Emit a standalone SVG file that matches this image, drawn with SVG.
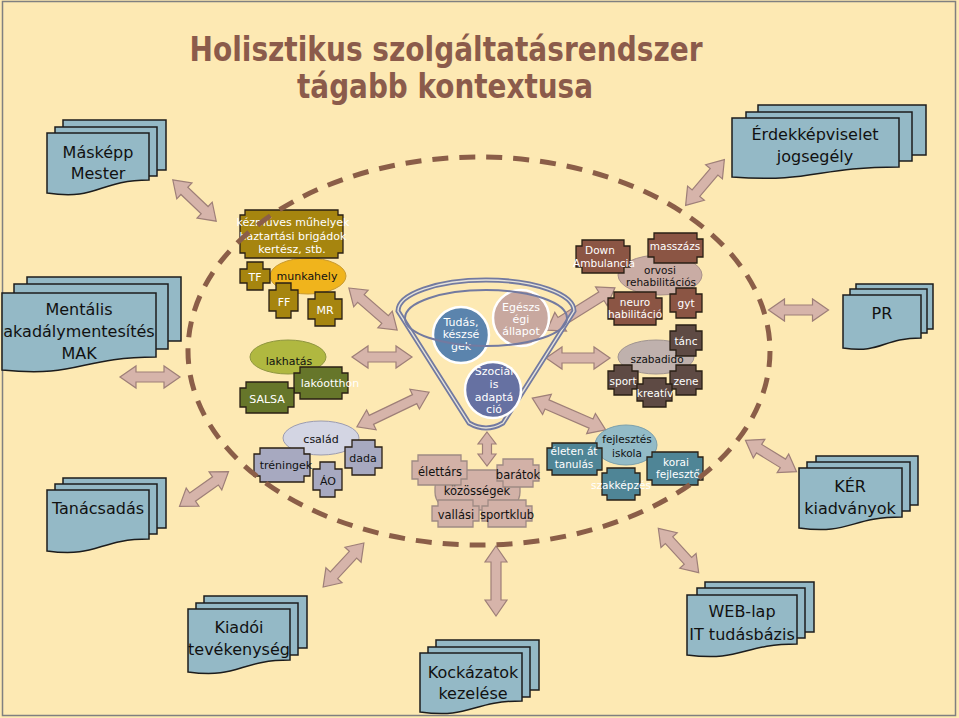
<svg xmlns="http://www.w3.org/2000/svg" width="959" height="718" viewBox="0 0 959 718">
<defs>
<style>
.doc{fill:#94B9C6;stroke:#1c1c1c;stroke-width:1.5}
.dt{font-family:"DejaVu Sans",Verdana,sans-serif;font-size:16px;fill:#111;text-anchor:middle}
.st{font-family:"DejaVu Sans",Verdana,sans-serif;text-anchor:middle}
.f10{font-size:10.5px}
.f105{font-size:11px}
.f115{font-size:11.5px}
.w{fill:#fff}
.k{fill:#111}
.box{stroke:#2a1f14;stroke-width:1.3}
.arr{fill:#D6B4AA;stroke:#9E7F78;stroke-width:1.2}
.gold{fill:#A6850F}
.olive{fill:#66762A}
.lav{fill:#A7A9C0}
.pink{fill:#D2B1A7;stroke:#9F8A84;stroke-width:1.3}
.teal{fill:#4F8596}
.brown{fill:#8B5544}
.dark{fill:#5E4A44}
</style>
<polygon id="a60" class="arr" points="-30,0 -14,-11 -14,-5 14,-5 14,-11 30,0 14,11 14,5 -14,5 -14,11"/>
<polygon id="a64" class="arr" points="-32,0 -16,-11 -16,-5 16,-5 16,-11 32,0 16,11 16,5 -16,5 -16,11"/>
<polygon id="a70" class="arr" points="-35,0 -19,-11 -19,-5 19,-5 19,-11 35,0 19,11 19,5 -19,5 -19,11"/>
<polygon id="a74" class="arr" points="-37,0 -21,-11 -21,-5 21,-5 21,-11 37,0 21,11 21,5 -21,5 -21,11"/>
<polygon id="a80" class="arr" points="-40,0 -24,-11 -24,-5 24,-5 24,-11 40,0 24,11 24,5 -24,5 -24,11"/>
<polygon id="a34" class="arr" points="-17,0 -5,-9 -5,-4.5 5,-4.5 5,-9 17,0 5,9 5,4.5 -5,4.5 -5,9"/>
</defs>

<rect x="0" y="0" width="959" height="718" fill="#FDE9B3"/>
<rect x="2.5" y="1.5" width="953" height="714" fill="none" stroke="#808080" stroke-width="1.5"/>

<g id="title" font-family="DejaVu Sans, Verdana, sans-serif" font-weight="bold" font-size="33" fill="#8B5B4B" text-anchor="middle">
<text x="446" y="61" textLength="513" lengthAdjust="spacingAndGlyphs">Holisztikus szolgáltatásrendszer</text>
<text x="445" y="98" textLength="296" lengthAdjust="spacingAndGlyphs">tágabb kontextusa</text>
</g>

<!-- outer documents -->
<g id="maskepp">
<rect class="doc" x="63" y="120" width="103" height="50"/>
<rect class="doc" x="55" y="127" width="102" height="49"/>
<path class="doc" d="M47,133 H149 V180 C98,180 98,201 47,193 Z"/>
<text class="dt" x="98" y="158">Másképp</text>
<text class="dt" x="98" y="179">Mester</text>
</g>
<g id="erdek">
<rect class="doc" x="758" y="105" width="168" height="50"/>
<rect class="doc" x="746" y="112" width="166" height="49"/>
<path class="doc" d="M732,118 H899 V167 C815,167 815,183 732,177 Z"/>
<text class="dt" x="815" y="140">Érdekképviselet</text>
<text class="dt" x="815" y="162">jogsegély</text>
</g>
<g id="mentalis">
<rect class="doc" x="27" y="277" width="154" height="64"/>
<rect class="doc" x="14" y="284" width="154" height="65"/>
<path class="doc" d="M2,293 H156 V357 C79,357 79,378 2,370 Z"/>
<text class="dt" x="79" y="315">Mentális</text>
<text class="dt" x="79" y="337">akadálymentesítés</text>
<text class="dt" x="79" y="359">MAK</text>
</g>
<g id="pr">
<rect class="doc" x="856" y="284" width="77" height="45"/>
<rect class="doc" x="850" y="289" width="77" height="44"/>
<path class="doc" d="M843,295 H921 V338 C882,338 882,354 843,348 Z"/>
<text class="dt" x="882" y="319">PR</text>
</g>
<g id="tanacsadas">
<rect class="doc" x="63" y="478" width="103" height="50"/>
<rect class="doc" x="55" y="484" width="102" height="50"/>
<path class="doc" d="M47,490 H149 V539 C98,539 98,558 47,551 Z"/>
<text class="dt" x="98" y="514">Tanácsadás</text>
</g>
<g id="kiadoi">
<rect class="doc" x="204" y="596" width="103" height="52"/>
<rect class="doc" x="196" y="603" width="102" height="52"/>
<path class="doc" d="M188,609 H290 V660 C239,660 239,679 188,672 Z"/>
<text class="dt" x="239" y="633">Kiadói</text>
<text class="dt" x="239" y="655">tevékenység</text>
</g>
<g id="kockazatok">
<rect class="doc" x="436" y="640" width="103" height="50"/>
<rect class="doc" x="428" y="647" width="102" height="50"/>
<path class="doc" d="M420,653 H522 V701 C471,701 471,719 420,712 Z"/>
<text class="dt" x="473" y="678">Kockázatok</text>
<text class="dt" x="473" y="699">kezelése</text>
</g>
<g id="weblap">
<rect class="doc" x="705" y="582" width="109" height="50"/>
<rect class="doc" x="697" y="588" width="108" height="50"/>
<path class="doc" d="M687,595 H797 V644 C742,644 742,662 687,655 Z"/>
<text class="dt" x="742" y="617">WEB-lap</text>
<text class="dt" x="742" y="640">IT tudásbázis</text>
</g>
<g id="ker">
<rect class="doc" x="816" y="456" width="102" height="49"/>
<rect class="doc" x="807" y="462" width="103" height="49"/>
<path class="doc" d="M799,468 H902 V517 C850,517 850,535 799,528 Z"/>
<text class="dt" x="850" y="492">KÉR</text>
<text class="dt" x="850" y="514">kiadványok</text>
</g>

<!-- connectors -->
<g id="connectors">
<use href="#a60" transform="translate(194.5,200.5) rotate(43.6)"/>
<use href="#a60" transform="translate(705,182.5) rotate(-49.8)"/>
<use href="#a60" transform="translate(150,377)"/>
<use href="#a60" transform="translate(798.5,310)"/>
<use href="#a60" transform="translate(204,489) rotate(-35.3)"/>
<use href="#a60" transform="translate(771,456) rotate(31.6)"/>
<use href="#a60" transform="translate(678.5,550.5) rotate(47.7)"/>
<use href="#a60" transform="translate(343.5,565) rotate(-47.2)"/>
<use href="#a70" transform="translate(496,581) rotate(90)"/>
<use href="#a64" transform="translate(373,309) rotate(41)"/>
<use href="#a60" transform="translate(382,357)"/>
<use href="#a80" transform="translate(393,409.5) rotate(-25.6)"/>
<use href="#a80" transform="translate(581,309) rotate(-32)"/>
<use href="#a64" transform="translate(578,358)"/>
<use href="#a80" transform="translate(569,414) rotate(23.4)"/>
<use href="#a34" transform="translate(487,449) rotate(90)"/>
</g>

<!-- funnel -->
<g id="funnel">
<path d="M398,311 A88,31 0 0 1 574,311 L503,423 Q486,433 469,423 Z" fill="none" stroke="#737AA0" stroke-width="5"/>
<path d="M398,311 A88,31 0 0 1 574,311 L503,423 Q486,433 469,423 Z" fill="none" stroke="#E6E3DA" stroke-width="1.4"/>
</g>
<g id="tudas">
<circle cx="461" cy="335" r="28" fill="#5B84AD" stroke="#fff" stroke-width="2.5"/>
<text class="st f105 w" x="461" y="326">Tudás,</text>
<text class="st f105 w" x="461" y="338">készsé</text>
<text class="st f105 w" x="461" y="350">gek</text>
</g>
<g id="egeszseg">
<circle cx="521" cy="318" r="28" fill="#C8A89F" stroke="#fff" stroke-width="2.5"/>
<text class="st f105 w" x="521" y="311">Egészs</text>
<text class="st f105 w" x="521" y="323">égi</text>
<text class="st f105 w" x="521" y="335">állapot</text>
</g>
<g id="szocialis">
<circle cx="493" cy="390" r="28" fill="#6671A2" stroke="#fff" stroke-width="2.5"/>
<text class="st f105 w" x="494" y="375">Szociál</text>
<text class="st f105 w" x="494" y="388">is</text>
<text class="st f105 w" x="494" y="401">adaptá</text>
<text class="st f105 w" x="494" y="413">ció</text>
</g>
<g id="funnel-rim">
<ellipse cx="486" cy="318" rx="81" ry="28" fill="none" stroke="#737AA0" stroke-width="2"/>
</g>

<!-- work cluster -->
<g id="munkahely">
<ellipse cx="308" cy="276" rx="38" ry="18" fill="#F0B41C" stroke="#C89A30" stroke-width="1"/>
<text class="st f105 k" x="307" y="280">munkahely</text>
</g>
<g id="kezmuves">
<path class="box gold" d="M245,210 h93 v5 h5 v38 h-5 v5 h-93 v-5 h-5 v-38 h5 z"/>
<text class="st f105 w" x="293" y="226">kézműves műhelyek</text>
<text class="st f105 w" x="293" y="239.5">haztartási brigádok</text>
<text class="st f105 w" x="292" y="253">kertész, stb.</text>
</g>
<g id="tf">
<path class="box gold" d="M247,262 h16 v7 h7 v14 h-7 v7 h-16 v-7 h-7 v-14 h7 z"/>
<text class="st f105 w" x="255" y="281">TF</text>
</g>
<g id="ff">
<path class="box gold" d="M276,283 h15 v7 h7 v21 h-7 v7 h-15 v-7 h-7 v-21 h7 z"/>
<text class="st f105 w" x="284" y="306">FF</text>
</g>
<g id="mr">
<path class="box gold" d="M315,292 h20 v7 h7 v20 h-7 v7 h-20 v-7 h-7 v-20 h7 z"/>
<text class="st f105 w" x="325" y="314">MR</text>
</g>

<!-- housing cluster -->
<g id="lakhatas">
<ellipse cx="288" cy="357" rx="38" ry="17" fill="#B0B840" stroke="#8F9640" stroke-width="1"/>
<text class="st f105 k" x="289" y="365">lakhatás</text>
</g>
<g id="lakootthon">
<path class="box olive" d="M300,367 h42 v6 h6 v20 h-6 v6 h-42 v-6 h-6 v-20 h6 z"/>
<text class="st f105 w" x="330" y="387">lakóotthon</text>
</g>
<g id="salsa">
<path class="box olive" d="M246,382 h42 v6 h6 v19 h-6 v6 h-42 v-6 h-6 v-19 h6 z"/>
<text class="st f105 w" x="267" y="403">SALSA</text>
</g>

<!-- family cluster -->
<g id="csalad">
<ellipse cx="321" cy="438" rx="38" ry="17" fill="#D3D5E3" stroke="#9C9CB0" stroke-width="1"/>
<text class="st f105 k" x="321" y="443">család</text>
</g>
<g id="treningek">
<path class="box lav" d="M260,448 h44 v6 h6 v22 h-6 v6 h-44 v-6 h-6 v-22 h6 z"/>
<text class="st f105 k" x="286" y="469">tréningek</text>
</g>
<g id="ao">
<path class="box lav" d="M320,462 h15 v7 h7 v21 h-7 v7 h-15 v-7 h-7 v-21 h7 z"/>
<text class="st f105 k" x="328" y="485">ÁO</text>
</g>
<g id="dada">
<path class="box lav" d="M352,440 h23 v7 h7 v21 h-7 v7 h-23 v-7 h-7 v-21 h7 z"/>
<text class="st f105 k" x="363" y="462">dada</text>
</g>

<!-- community cluster -->
<g id="kozossegek">
<rect class="pink" x="435" y="470" width="85" height="40" rx="18"/>
<text class="st f115 k" x="477" y="495">közösségek</text>
</g>
<g id="elettars">
<path class="pink" d="M418,455 h43 v6 h6 v18 h-6 v6 h-43 v-6 h-6 v-18 h6 z"/>
<text class="st f115 k" x="440" y="476">élettárs</text>
</g>
<g id="baratok">
<path class="pink" d="M503,459 h30 v6 h6 v16 h-6 v6 h-30 v-6 h-6 v-16 h6 z"/>
<text class="st f115 k" x="518" y="479">barátok</text>
</g>
<g id="vallasi">
<path class="pink" d="M438,500 h35 v6 h6 v15 h-6 v6 h-35 v-6 h-6 v-15 h6 z"/>
<text class="st f115 k" x="456" y="519">vallási</text>
</g>
<g id="sportklub">
<path class="pink" d="M488,500 h38 v6 h6 v15 h-6 v6 h-38 v-6 h-6 v-15 h6 z"/>
<text class="st f115 k" x="507" y="519">sportklub</text>
</g>

<!-- education cluster -->
<g id="fejlesztes">
<ellipse cx="626" cy="445" rx="31" ry="20" fill="#93BBC7" stroke="#7BA0AC" stroke-width="1"/>
<text class="st f10 k" x="627" y="443">fejlesztés</text>
<text class="st f10 k" x="627" y="457">iskola</text>
</g>
<g id="eleten">
<path class="box teal" d="M552,443 h45 v5 h5 v22 h-5 v5 h-45 v-5 h-5 v-22 h5 z"/>
<text class="st f10 w" x="574" y="455">életen át</text>
<text class="st f10 w" x="574" y="468">tanulás</text>
</g>
<g id="szakkepzes">
<path class="box teal" d="M607,468 h28 v5 h5 v22 h-5 v5 h-28 v-5 h-5 v-22 h5 z"/>
<text class="st f10 w" x="621" y="489">szakképzés</text>
</g>
<g id="korai">
<path class="box teal" d="M652,452 h46 v5 h5 v23 h-5 v5 h-46 v-5 h-5 v-23 h5 z"/>
<text class="st f10 w" x="676" y="466">korai</text>
<text class="st f10 w" x="678" y="478">fejlesztő</text>
</g>

<!-- medical cluster -->
<g id="orvosi">
<ellipse cx="660" cy="275" rx="42" ry="20" fill="#C9ACA4" stroke="#A8908A" stroke-width="1"/>
<text class="st f10 k" x="660" y="274">orvosi</text>
<text class="st f10 k" x="661" y="286">rehabilitációs</text>
</g>
<g id="down">
<path class="box brown" d="M582,240 h42 v6 h6 v21 h-6 v6 h-42 v-6 h-6 v-21 h6 z"/>
<text class="st f10 w" x="600" y="254">Down</text>
<text class="st f10 w" x="604" y="267">Ambulancia</text>
</g>
<g id="masszazs">
<path class="box brown" d="M654,233 h43 v6 h6 v18 h-6 v6 h-43 v-6 h-6 v-18 h6 z"/>
<text class="st f10 w" x="675" y="250">masszázs</text>
</g>
<g id="neuro">
<path class="box brown" d="M614,292 h42 v6 h6 v21 h-6 v6 h-42 v-6 h-6 v-21 h6 z"/>
<text class="st f10 w" x="635" y="306">neuro</text>
<text class="st f10 w" x="635" y="318">habilitáció</text>
</g>
<g id="gyt">
<path class="box brown" d="M676,288 h20 v6 h6 v18 h-6 v6 h-20 v-6 h-6 v-18 h6 z"/>
<text class="st f10 w" x="686" y="307">gyt</text>
</g>

<!-- leisure cluster -->
<g id="szabadido">
<ellipse cx="656" cy="357" rx="38" ry="17" fill="#BFB1AD" stroke="#A09490" stroke-width="1"/>
<text class="st f10 k" x="657" y="363">szabadidő</text>
</g>
<g id="tanc">
<path class="box dark" d="M676,325 h20 v6 h6 v19 h-6 v6 h-20 v-6 h-6 v-19 h6 z"/>
<text class="st f10 w" x="686" y="345">tánc</text>
</g>
<g id="sport">
<path class="box dark" d="M614,365 h18 v6 h6 v18 h-6 v6 h-18 v-6 h-6 v-18 h6 z"/>
<text class="st f10 w" x="623" y="385">sport</text>
</g>
<g id="zene">
<path class="box dark" d="M676,365 h20 v6 h6 v18 h-6 v6 h-20 v-6 h-6 v-18 h6 z"/>
<text class="st f10 w" x="686" y="385">zene</text>
</g>
<g id="kreativ">
<path class="box dark" d="M643,378 h23 v6 h6 v17 h-6 v6 h-23 v-6 h-6 v-17 h6 z"/>
<text class="st f10 w" x="655" y="397">kreatív</text>
</g>

<!-- boundary -->
<g id="boundary">
<ellipse cx="479" cy="351" rx="291" ry="194" fill="none" stroke="#8B5E48" stroke-width="5" stroke-dasharray="16 11"/>
</g>
</svg>
